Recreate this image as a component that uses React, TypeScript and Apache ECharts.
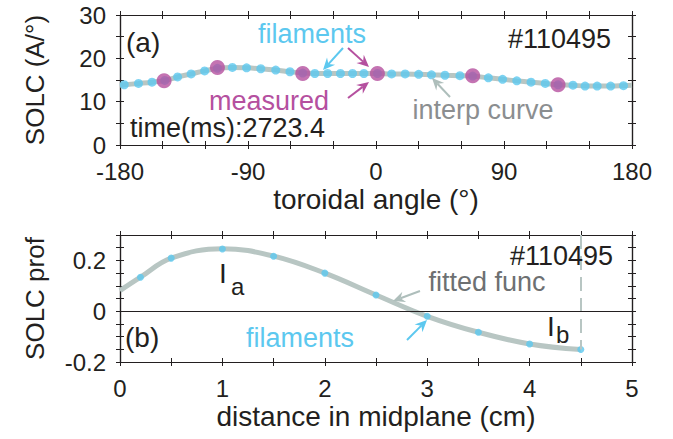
import React, { useEffect, useRef } from "react";
import * as echarts from "echarts";

// ---------- data ----------
const filamentAngles = [
  -177, -167, -157.5, -148.5, -139.5, -130, -120.5, -111.5, -101, -91, -81, -70.5,
  -60.5, -51.5, -43, -34, -25, -16.5, -8.5, 1, 11, 20.5, 30, 39, 48.5, 59, 68, 79,
  89, 99, 109, 119, 128, 138.5, 147, 155.5, 165, 174,
];
const filamentValues = [
  13.9, 14.2, 14.5, 14.9, 15.7, 16.4, 17.1, 17.7, 17.9, 17.8, 17.6, 17.3,
  16.9, 16.6, 16.5, 16.5, 16.5, 16.5, 16.5, 16.5, 16.4, 16.4, 16.3, 16.2, 16.1, 16.0, 15.9, 15.5,
  15.15, 14.8, 14.5, 14.2, 13.9, 13.8, 13.6, 13.6, 13.6, 13.7,
];
const measuredAngles = [-149, -111.5, -51.5, 1, 68, 128];
const measuredValues = [14.8, 17.9, 16.5, 16.5, 16.0, 13.9];
const curveEndAngles = [-180, 180];
const curveEndValues = [13.8, 13.8];

const profX = [0.2, 0.5, 1, 1.5, 2, 2.5, 3, 3.5, 4, 4.5];
const profY = [0.134, 0.209, 0.245, 0.216, 0.15, 0.064, -0.02, -0.083, -0.129, -0.151];
const fitX = [0, 0.2, 0.5, 1, 1.5, 2, 2.5, 3, 3.5, 4, 4.5];
const fitY = [0.081, 0.134, 0.209, 0.246, 0.217, 0.15, 0.064, -0.02, -0.083, -0.129, -0.151];

const topXTicks = { min: -180, max: 180, interval: 90, minor: 3 };
const topYTicks = { min: 0, max: 30, interval: 10, minor: 2 };
const botXTicks = { min: 0, max: 5, interval: 1, minor: 2 };
const botYTicks = { min: -0.2, max: 0.3, interval: 0.1, minor: 2 };

// ---------- style ----------
const FONT = "'Liberation Sans', Arial, Helvetica, sans-serif";
const CYAN = "#5cc8ef";
const MAGENTA = "#b5509f";
const CURVE = "#b8c6c3";
const BLACK = "#231f20";

function frameAxes(kind: "x" | "y", grid: number, t: any, labelOpts: any, name: string) {
  const base = {
    gridIndex: grid,
    type: "value",
    min: t.min,
    max: t.max,
    interval: t.interval,
    splitLine: { show: false },
    axisLine: { show: true, onZero: false, lineStyle: { color: BLACK, width: 1.2 } },
    minorSplitLine: { show: false },
  };
  const pos = kind === "x" ? ["bottom", "top"] : ["left", "right"];
  const out: any[] = [];
  pos.forEach((p, pi) => {
    [false, true].forEach((inside, ii) => {
      const main = pi === 0 && ii === 0;
      out.push({
        ...base,
        position: p,
        axisTick: { show: true, inside, length: 4, lineStyle: { color: BLACK, width: 1 } },
        minorTick: { show: true, inside, splitNumber: t.minor, length: 4, lineStyle: { color: BLACK, width: 1 } },
        axisLabel: main ? labelOpts : { show: false },
        name: main ? name : "",
        nameLocation: "middle",
        nameGap: kind === "x" ? 40 : 72,
        nameTextStyle: { fontFamily: FONT, fontSize: kind === "x" ? 28 : 26, color: BLACK },
      });
    });
  });
  return out;
}

function arrow(x1: number, y1: number, x2: number, y2: number, color: string) {
  const ang = Math.atan2(y2 - y1, x2 - x1);
  const L = 12, W = 5.5, N = 8;
  const c = Math.cos(ang), s = Math.sin(ang);
  const bx = x2 - L * c, by = y2 - L * s;
  const nx = x2 - N * c, ny = y2 - N * s;
  const pts = [
    [x2, y2],
    [bx - W * s, by + W * c],
    [nx, ny],
    [bx + W * s, by - W * c],
  ];
  return [
    { type: "line", shape: { x1, y1, x2: nx, y2: ny }, style: { stroke: color, lineWidth: 2 }, z: 100 },
    { type: "polygon", shape: { points: pts }, style: { fill: color }, z: 100 },
  ];
}

function txt(text: string, x: number, y: number, fill: string, size: number, align = "left") {
  return {
    type: "text",
    x,
    y,
    z: 100,
    style: { text, fill, fontSize: size, fontFamily: FONT, textAlign: align, textVerticalAlign: "middle" },
  };
}

export default function App() {
  const ref = useRef<HTMLDivElement>(null);
  useEffect(() => {
    if (!ref.current) return;
    const chart = echarts.init(ref.current, null, { renderer: "svg" });

    const tickLabel = { show: true, fontFamily: FONT, fontSize: 24, color: BLACK, margin: 14 };
    const yLabelTop = { ...tickLabel, margin: 14 };
    const yLabelBot = {
      ...tickLabel,
      margin: 14,
      formatter: (v: number) => {
        const k = Math.round(v * 10);
        if (k % 2 !== 0) return "";
        return k === 0 ? "0" : (k / 10).toFixed(1);
      },
    };

    const xAxes = [
      ...frameAxes("x", 0, topXTicks, tickLabel, "toroidal angle (°)"),
      ...frameAxes("x", 1, botXTicks, tickLabel, "distance in midplane (cm)"),
    ];
    const yAxes = [
      ...frameAxes("y", 0, topYTicks, yLabelTop, "SOLC (A/°)"),
      ...frameAxes("y", 1, botYTicks, yLabelBot, "SOLC prof"),
    ];

    const curveData = [
      [curveEndAngles[0], curveEndValues[0]],
      ...filamentAngles.map((a, i) => [a, filamentValues[i]]),
      [curveEndAngles[1], curveEndValues[1]],
    ];

    const option: any = {
      animation: false,
      backgroundColor: "#ffffff",
      grid: [
        { left: 120, top: 15, width: 512, height: 130 },
        { left: 120, top: 235, width: 512, height: 127 },
      ],
      xAxis: xAxes,
      yAxis: yAxes,
      series: [
        {
          type: "line",
          xAxisIndex: 0,
          yAxisIndex: 0,
          data: curveData,
          smooth: 0.4,
          showSymbol: false,
          lineStyle: { color: CURVE, width: 5 },
          z: 2,
        },
        {
          type: "scatter",
          xAxisIndex: 0,
          yAxisIndex: 0,
          data: filamentAngles.map((a, i) => [a, filamentValues[i]]),
          symbolSize: 9,
          itemStyle: { color: CYAN },
          z: 3,
        },
        {
          type: "scatter",
          xAxisIndex: 0,
          yAxisIndex: 0,
          data: measuredAngles.map((a, i) => [a, measuredValues[i]]),
          symbolSize: 15,
          itemStyle: { color: MAGENTA },
          z: 4,
        },
        {
          type: "line",
          xAxisIndex: 4,
          yAxisIndex: 4,
          data: fitX.map((x, i) => [x, fitY[i]]),
          smooth: 0.4,
          showSymbol: false,
          lineStyle: { color: CURVE, width: 5 },
          z: 2,
          markLine: {
            silent: true,
            symbol: "none",
            label: { show: false },
            data: [
              [
                { coord: [profX[profX.length - 1], botYTicks.max], lineStyle: { color: CURVE, width: 2, type: [14, 7] } },
                { coord: [profX[profX.length - 1], profY[profY.length - 1]] },
              ],
              { yAxis: 0, lineStyle: { color: BLACK, width: 1, type: "solid" } },
            ],
          },
        },
        {
          type: "scatter",
          xAxisIndex: 4,
          yAxisIndex: 4,
          data: profX.map((x, i) => [x, profY[i]]),
          symbolSize: 7,
          itemStyle: { color: CYAN },
          z: 3,
        },
      ],
      graphic: [
        txt("(a)", 126, 42, BLACK, 28),
        txt("#110495", 611, 39, BLACK, 27, "right"),
        txt("filaments", 312, 34, CYAN, 27, "center"),
        txt("measured", 269, 101, MAGENTA, 27, "center"),
        txt("interp curve", 483, 110, "#8b8e90", 27, "center"),
        txt("time(ms):2723.4", 130, 128, BLACK, 27),
        ...arrow(343, 48, 323, 70, CYAN),
        ...arrow(348, 48, 369, 67, MAGENTA),
        ...arrow(348, 98, 369, 82, MAGENTA),
        ...arrow(450, 97, 432, 78, "#aebebb"),
        txt("#110495", 613, 256, BLACK, 27, "right"),
        txt("fitted func", 487, 282, "#6d7072", 27, "center"),
        ...arrow(420, 291, 393, 301, "#aebebb"),
        txt("(b)", 125, 337, BLACK, 28),
        txt("filaments", 300, 338, CYAN, 27, "center"),
        ...arrow(407, 340, 427, 320, CYAN),
        txt("I", 219, 273, BLACK, 28),
        txt("a", 231, 286, BLACK, 24),
        txt("I", 547, 326, BLACK, 28),
        txt("b", 556, 334, BLACK, 24),
      ],
    };
    chart.setOption(option);
    return () => chart.dispose();
  }, []);
  return (
    <div
      ref={ref}
      style={{ position: "absolute", left: 0, top: 0, width: 673, height: 439, background: "#fff" }}
    />
  );
}
